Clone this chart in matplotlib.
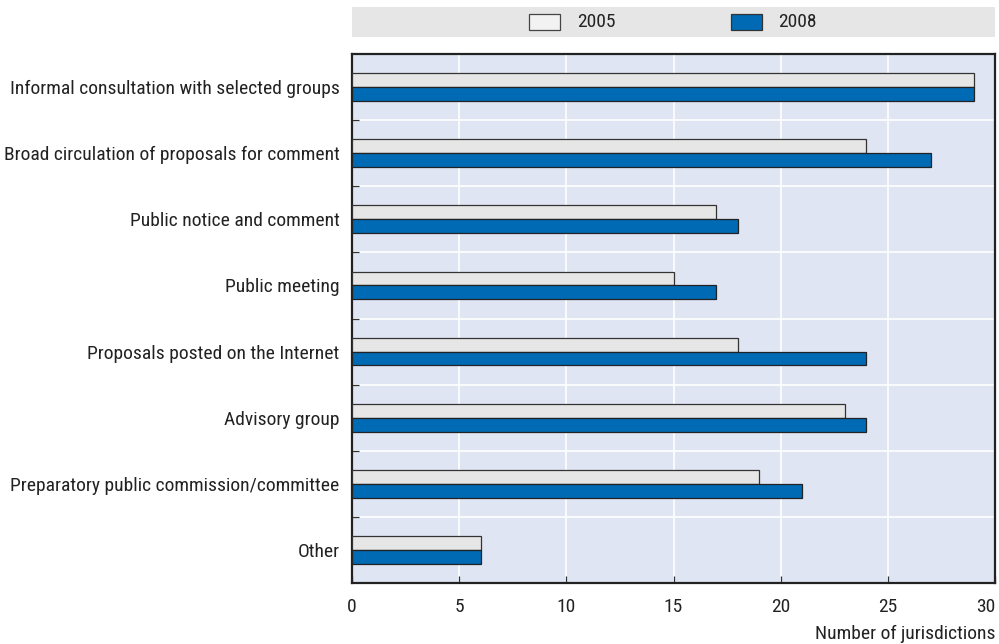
import matplotlib
matplotlib.use("Agg")
import matplotlib.pyplot as plt
from matplotlib import font_manager
from matplotlib.font_manager import FontProperties
from matplotlib.patches import Rectangle
import numpy as np

categories = [
    "Informal consultation with selected groups",
    "Broad circulation of proposals for comment",
    "Public notice and comment",
    "Public meeting",
    "Proposals posted on the Internet",
    "Advisory group",
    "Preparatory public commission/committee",
    "Other",
]
values_2005 = [29, 24, 17, 15, 18, 23, 19, 6]
values_2008 = [29, 27, 18, 17, 24, 24, 21, 6]
series_names = ["2005", "2008"]
xticks = [0, 5, 10, 15, 20, 25, 30]
xlabel = "Number of jurisdictions"

# pick a condensed sans font if available
cands = []
for f in font_manager.fontManager.ttflist:
    fn = f.fname.lower()
    if f.style != "normal" or f.weight not in (400, "normal", "regular"):
        continue
    if "bold" in fn or "italic" in fn or "light" in fn or "oblique" in fn:
        continue
    cond = ("condensed" in fn or "narrow" in fn or "condensed" in f.name.lower()
            or "narrow" in f.name.lower() or f.stretch == "condensed")
    if not cond:
        continue
    if "semi" in fn or "extra" in fn or "ultra" in fn:
        continue
    cands.append(f)
prio = ["roboto", "liberation", "dejavu", "noto", "open", "lato", "inter"]
def score(f):
    n = (f.name + " " + f.fname).lower()
    for i, p in enumerate(prio):
        if p in n:
            return i
    return 99
cands.sort(key=score)
if cands:
    FONT_PATH = cands[0].fname
    FS = 14
else:
    FONT_PATH = None
    FS = 11

def fp(size=FS):
    if FONT_PATH:
        return FontProperties(fname=FONT_PATH, size=size)
    return FontProperties(family="DejaVu Sans", size=size)

W, H = 999, 644
fig = plt.figure(figsize=(W / 100, H / 100), dpi=100)

def ax_rect(l, t, r, b):
    return [l / W, 1 - b / H, (r - l) / W, (b - t) / H]

TXT = "#222222"
ax = fig.add_axes(ax_rect(352, 54, 995, 583))
ax.set_facecolor("#dfe5f3")
n = len(categories)
y = np.arange(n)
bh = 0.21
c05 = "#e6e6e6"
c08 = "#006ab4"
ax.barh(y - bh / 2, values_2005, height=bh, color=c05, edgecolor="#333333", linewidth=0.9, zorder=3)
ax.barh(y + bh / 2, values_2008, height=bh, color=c08, edgecolor="#222222", linewidth=0.9, zorder=3)
ax.set_xlim(0, 30)
ax.set_ylim(n - 0.5, -0.5)
ax.set_xticks(xticks)
ax.set_xticklabels([str(t) for t in xticks], fontproperties=fp(), color=TXT)
ax.get_xticklabels()[-1].set_horizontalalignment("right")
ax.set_yticks(y)
ax.set_yticklabels(categories, fontproperties=fp(), color=TXT)
ax.tick_params(axis="y", length=0, pad=9)
ax.tick_params(axis="x", length=5, direction="in", width=0.9, color="#333333", pad=11)
ax.set_yticks(np.arange(0.5, n - 0.5, 1), minor=True)
ax.tick_params(axis="y", which="minor", length=5, direction="in", width=0.9, color="#333333")
ax.grid(axis="x", color="white", linewidth=1.2, zorder=1)
ax.grid(axis="y", which="minor", color="white", linewidth=1.2, zorder=1)
ax.grid(axis="y", which="major", visible=False)
ax.set_axisbelow(True)
for s in ax.spines.values():
    s.set_linewidth(1.6)
    s.set_color("#222222")
ax.text(1.0, -0.08, xlabel, transform=ax.transAxes, ha="right", va="top",
        fontproperties=fp(), color=TXT)

# legend band
lax = fig.add_axes(ax_rect(352, 7, 995, 37))
lax.set_facecolor("#e6e6e6")
lax.set_xlim(352, 995)
lax.set_ylim(37, 7)
for s in lax.spines.values():
    s.set_visible(False)
lax.set_xticks([])
lax.set_yticks([])
lax.add_patch(Rectangle((529, 14), 31, 16, facecolor="#f2f2f2", edgecolor="#444444", linewidth=0.9))
lax.text(577, 22, series_names[0], ha="left", va="center", fontproperties=fp(), color=TXT)
lax.add_patch(Rectangle((731, 14), 31, 16, facecolor=c08, edgecolor="#333333", linewidth=0.9))
lax.text(778, 22, series_names[1], ha="left", va="center", fontproperties=fp(), color=TXT)

fig.savefig("out.png", dpi=100)
